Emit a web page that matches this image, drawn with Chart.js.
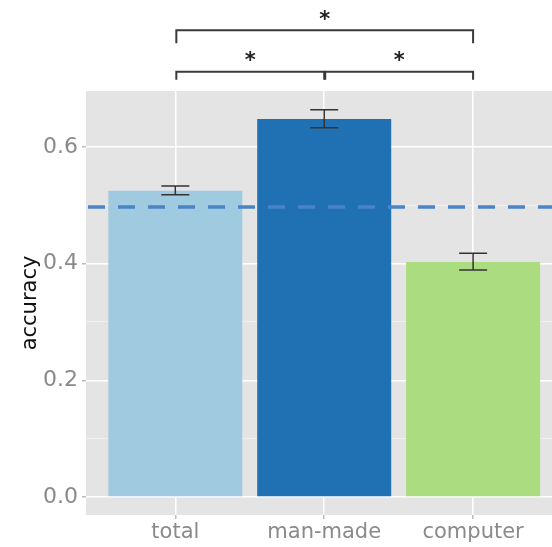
<!DOCTYPE html>
<html>
<head>
<meta charset="utf-8">
<script src="https://cdn.jsdelivr.net/npm/chart.js@4"></script>
<style>
  html, body { margin: 0; padding: 0; background: #fff; }
  #wrap { width: 552px; height: 547px; position: relative; }
</style>
</head>
<body>
<div id="wrap"><canvas id="chart"></canvas></div>
<script>
const categories = ['total', 'man-made', 'computer'];
const accuracy = [0.525, 0.648, 0.403];
const errLow = [0.518, 0.633, 0.389];
const errHigh = [0.533, 0.664, 0.418];
const barColors = ['#9fcae0', '#1f71b3', '#acdc80'];
const chanceLevel = 0.497;
const yTicks = [0, 0.1, 0.2, 0.3, 0.4, 0.5, 0.6];
// significance brackets: [from, to, bracket y, star shown]
const brackets = [
  [1, 2, 0.729, true],
  [2, 3, 0.729, true],
  [1, 3, 0.800, true]
];

const panelPlugin = {
  id: 'panel',
  beforeDraw(chart) {
    const { ctx, chartArea: a } = chart;
    ctx.save();
    ctx.fillStyle = '#e4e4e4';
    ctx.fillRect(a.left, a.top, a.right - a.left, a.bottom - a.top);
    ctx.restore();
  }
};

const extrasPlugin = {
  id: 'extras',
  afterDatasetsDraw(chart) {
    const { ctx, chartArea: a } = chart;
    const x = chart.scales.x, y = chart.scales.y;
    ctx.save();
    // chance line
    ctx.strokeStyle = '#4a84c6';
    ctx.lineWidth = 3.5;
    ctx.setLineDash([17, 13]);
    ctx.lineDashOffset = -2;
    const yc = y.getPixelForValue(chanceLevel);
    ctx.beginPath();
    ctx.moveTo(a.left, yc);
    ctx.lineTo(a.right, yc);
    ctx.stroke();
    ctx.setLineDash([]);
    // error bars
    ctx.strokeStyle = '#333';
    ctx.lineWidth = 1.5;
    categories.forEach((c, i) => {
      const px = x.getPixelForValue(i + 1);
      const lo = y.getPixelForValue(errLow[i]);
      const hi = y.getPixelForValue(errHigh[i]);
      ctx.beginPath();
      ctx.moveTo(px - 14, hi); ctx.lineTo(px + 14, hi);
      ctx.moveTo(px, hi); ctx.lineTo(px, lo);
      ctx.moveTo(px - 14, lo); ctx.lineTo(px + 14, lo);
      ctx.stroke();
    });
    // significance brackets
    ctx.strokeStyle = '#3a3a3a';
    ctx.lineWidth = 2;
    ctx.fillStyle = '#222';
    ctx.font = 'bold 21px "DejaVu Sans"';
    ctx.textAlign = 'center';
    ctx.textBaseline = 'middle';
    brackets.forEach(b => {
      const x1 = x.getPixelForValue(b[0]) + 1;
      const x2 = x.getPixelForValue(b[1]);
      const yb = y.getPixelForValue(b[2]);
      const drop = b[2] > 0.75 ? 13 : 8;
      ctx.beginPath();
      ctx.moveTo(x1, yb + drop);
      ctx.lineTo(x1, yb);
      ctx.lineTo(x2, yb);
      ctx.lineTo(x2, yb + drop);
      ctx.stroke();
      if (b[3]) ctx.fillText('*', (x1 + x2) / 2, yb - 10);
    });
    ctx.restore();
  }
};

new Chart(document.getElementById('chart'), {
  type: 'bar',
  data: {
    datasets: [{
      data: accuracy.map((v, i) => ({ x: i + 1, y: v })),
      backgroundColor: barColors,
      borderWidth: 0,
      barPercentage: 0.9,
      categoryPercentage: 1
    }]
  },
  options: {
    responsive: true,
    maintainAspectRatio: false,
    animation: false,
    layout: { padding: { top: 91, left: 0, right: 0, bottom: 0 } },
    plugins: { legend: { display: false }, tooltip: { enabled: false } },
    scales: {
      x: {
        type: 'linear',
        min: 0.4,
        max: 3.53,
        offset: false,
        afterBuildTicks: s => { s.ticks = categories.map((c, i) => ({ value: i + 1 })); },
        afterFit: s => { s.height = 32; },
        ticks: {
          callback: v => categories[v - 1],
          color: '#8a8a8a',
          font: { family: 'DejaVu Sans', size: 21 },
          padding: 1,
          maxRotation: 0
        },
        grid: { offset: false, color: '#ffffff', lineWidth: 1.5, drawTicks: true, tickLength: 4, tickColor: '#bbbbbb' },
        border: { display: false }
      },
      y: {
        min: -0.031,
        max: 0.696,
        afterBuildTicks: s => { s.ticks = yTicks.map(v => ({ value: v })); },
        afterFit: s => { s.width = 86; },
        ticks: {
          callback: v => (Math.round(v * 10) % 2 === 0 ? v.toFixed(1) : ''),
          color: '#8a8a8a',
          font: { family: 'DejaVu Sans', size: 22 },
          padding: 4
        },
        grid: {
          color: c => (Math.round(c.tick.value * 10) % 2 === 0 ? '#ffffff' : '#f1f1f1'),
          lineWidth: c => (Math.round(c.tick.value * 10) % 2 === 0 ? 1.5 : 0.8),
          drawTicks: true,
          tickLength: 4,
          tickColor: c => (Math.round(c.tick.value * 10) % 2 === 0 ? '#bbbbbb' : 'rgba(0,0,0,0)')
        },
        border: { display: false },
        title: {
          display: true,
          text: 'accuracy',
          color: '#111',
          font: { family: 'DejaVu Sans', size: 21 },
          padding: { top: 18, bottom: 0 }
        }
      }
    }
  },
  plugins: [panelPlugin, extrasPlugin]
});
</script>
</body>
</html>
